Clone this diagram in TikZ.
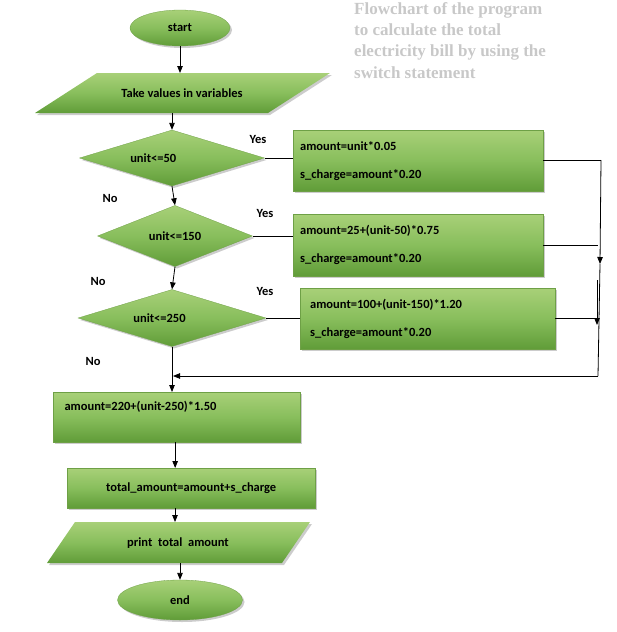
\documentclass[tikz,border=0pt]{standalone}
\usepackage{fontspec}
\setmainfont{Carlito}
\newfontfamily\titlefont{Liberation Serif}
\usetikzlibrary{shapes.geometric,shadows,arrows.meta}
\begin{document}
\begin{tikzpicture}[x=1pt,y=-1pt,
  gfill/.style={top color={rgb,255:red,168;green,208;blue,120},bottom color={rgb,255:red,96;green,156;blue,56},middle color={rgb,255:red,136;green,190;blue,92},drop shadow={shadow xshift=2pt,shadow yshift=-2pt,opacity=0.4}},
  bx/.style={gfill,draw={rgb,255:red,110;green,160;blue,70},line width=0.3pt,inner sep=0},
  txt/.style={font=\bfseries\fontsize{12.5}{15}\selectfont},
  lab/.style={font=\bfseries\fontsize{12.5}{15}\selectfont},
  ar/.style={-{Triangle[length=7pt,width=5.5pt]}},
  ln/.style={line width=0.8pt}]
\useasboundingbox (0,0) rectangle (616,632);
% title
\node[anchor=north west,align=left,text={rgb,255:red,200;green,200;blue,200},font=\titlefont\bfseries\fontsize{17}{21.3}\selectfont,inner sep=0] (title) at (354,2)
 {Flowchart of the program\\to calculate the total\\electricity bill by using the\\switch statement};
% start
\node[ellipse,bx,minimum width=100pt,minimum height=36pt,txt] (start) at (180,28) {start};
% input parallelogram
\path[gfill] (97,73) -- (330,73) -- (268,113) -- (35,113) -- cycle;
\coordinate (inTop) at (180,73);
\coordinate (inBot) at (172,113);
\node[txt] (intext) at (182,93) {Take values in variables};
% diamonds
\node[diamond,bx,minimum width=185pt,minimum height=56pt,txt] (d1) at (172,158) {\hspace*{-3em}unit<=50};
\node[diamond,bx,minimum width=155pt,minimum height=58pt,txt] (d2) at (175,236) {unit<=150};
\node[diamond,bx,minimum width=188pt,minimum height=57pt,txt] (d3) at (172,318) {\hspace*{-2em}unit<=250};
% boxes
\node[rectangle,bx,minimum width=250pt,minimum height=61pt,anchor=north west,txt,align=left,text width=236pt,inner xsep=7pt] (b1) at (293,130) {amount=unit*0.05\\[13pt]s\_charge=amount*0.20};
\node[rectangle,bx,minimum width=250pt,minimum height=62pt,anchor=north west,txt,align=left,text width=236pt,inner xsep=7pt] (b2) at (293,214) {amount=25+(unit-50)*0.75\\[13pt]s\_charge=amount*0.20};
\node[rectangle,bx,minimum width=249pt,minimum height=61pt,anchor=north west,txt,align=left,text width=235pt,inner xsep=10pt] (b3) at (300,288) {amount=100+(unit-150)*1.20\\[13pt]s\_charge=amount*0.20};
\node[rectangle,bx,minimum width=247pt,minimum height=50pt,anchor=north west] (b4) at (53,392) {};
\node[txt,anchor=west] (b4t) at (61,407) {amount=220+(unit-250)*1.50};
\node[rectangle,bx,minimum width=248pt,minimum height=40pt,anchor=north west,txt] (b5) at (67,468) {total\_amount=amount+s\_charge};
% print parallelogram
\path[gfill] (75,522) -- (310,522) -- (282,563) -- (47,563) -- cycle;
\coordinate (prTop) at (175,522);
\coordinate (prBot) at (180,563);
\node[txt] (prtext) at (178,543) {print\ \ total\ \ amount};
\node[ellipse,bx,minimum width=125pt,minimum height=40pt,txt] (end) at (180,600) {end};
% labels
\node[lab] (y1) at (258,139) {Yes};
\node[lab] (n1) at (110,198) {No};
\node[lab] (y2) at (265,213) {Yes};
\node[lab] (n2) at (98,281) {No};
\node[lab] (y3) at (265,291) {Yes};
\node[lab] (n3) at (93,361) {No};
% connectors
\draw[ln,ar] (start.south) -- (inTop);
\draw[ln,ar] (inBot) -- (d1.north);
\draw[ln,ar] (d1.south) -- (d2.north);
\draw[ln,ar] (d2.south) -- (d3.north);
\draw[ln,ar] (d3.south) -- (b4.north -| d3.south);
\draw[ln] (d1.east) -- (d1.east -| b1.west);
\draw[ln] (d2.east) -- (d2.east -| b2.west);
\draw[ln] (d3.east) -- (d3.east -| b3.west);
\coordinate (r1) at (601,160);
\coordinate (rb) at (598,376);
\coordinate (lb) at (173,376);
\draw[ln] (b1.east) -- (b1.east -| r1);
\draw[ln] (b2.east) -- (b2.east -| rb);
\draw[ln] (b3.east) -- (b3.east -| rb);
\draw[ln,ar] (r1) -- (600,264);
\draw[ln] (600,264) -- (rb);
\draw[ln,ar] (597,280) -- (597,325);
\draw[ln,ar] (rb) -- (lb);
\draw[ln,ar] (b4.south -| b5.north) ++(-16,0) coordinate (b4s) -- (b4s |- b5.north);
\draw[ln,ar] (b5.south -| prTop) -- (prTop);
\draw[ln,ar] (prBot) -- (end.north);
\end{tikzpicture}
\end{document}
